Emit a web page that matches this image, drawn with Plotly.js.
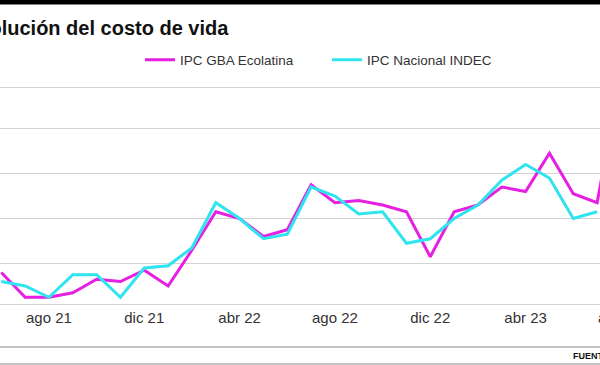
<!DOCTYPE html>
<html>
<head>
<meta charset="utf-8">
<script src="https://cdn.plot.ly/plotly-3.0.1.min.js"></script>
<style>
html, body { margin: 0; padding: 0; width: 600px; height: 365px; overflow: hidden; background: #fff; }
#chart { position: absolute; left: -40px; top: 0; width: 680px; height: 365px; }
</style>
</head>
<body>
<div id="chart"></div>
<script>
// Months (monthly inflation, %)
const months = ["jun 21","jul 21","ago 21","sep 21","oct 21","nov 21","dic 21",
  "ene 22","feb 22","mar 22","abr 22","may 22","jun 22","jul 22","ago 22","sep 22","oct 22","nov 22","dic 22",
  "ene 23","feb 23","mar 23","abr 23","may 23","jun 23","jul 23","ago 23"];
const ecolatina = [3.6, 2.5, 2.5, 2.7, 3.3, 3.2, 3.7, 3.0, 4.6, 6.3, 6.0, 5.2, 5.5, 7.5, 6.7, 6.8, 6.6, 6.3, 4.3,
  6.3, 6.6, 7.4, 7.2, 8.9, 7.1, 6.7, 12.4];
const indec = [3.2, 3.0, 2.5, 3.5, 3.5, 2.5, 3.8, 3.9, 4.7, 6.7, 6.0, 5.1, 5.3, 7.4, 7.0, 6.2, 6.3, 4.9, 5.1,
  6.0, 6.6, 7.7, 8.4, 7.8, 6.0, 6.3];
const tickMonths = ["ago 21","dic 21","abr 22","ago 22","dic 22","abr 23","ago 23"];
const seriesNames = ["IPC GBA Ecolatina", "IPC Nacional INDEC"];
const titleText = "Evolución del costo de vida";
const sourceText = "FUENTE:";

// geometry helpers (figure is 680 wide, shifted 40px left of the window)
const W = 680, H = 365, ML = 30, MR = 10, MT = 88, MB = 61;
const PW = W - ML - MR, PH = H - MT - MB;
const px = sx => (sx + 40 - ML) / PW;
const py = sy => (H - MB - sy) / PH;

const FONT = "Liberation Sans, Arial, sans-serif";

const traces = [
  { x: months.slice(0, ecolatina.length), y: ecolatina, name: seriesNames[0], type: "scatter", mode: "lines",
    line: { color: "#e61fe3", width: 3 } },
  { x: months.slice(0, indec.length), y: indec, name: seriesNames[1], type: "scatter", mode: "lines",
    line: { color: "#2fe4ee", width: 3 } }
];

const layout = {
  width: W, height: H,
  margin: { l: ML, r: MR, t: MT, b: MB },
  paper_bgcolor: "#fff", plot_bgcolor: "#fff",
  font: { family: FONT, color: "#333" },
  showlegend: true,
  legend: { orientation: "h", x: px(140), xanchor: "left", y: py(60), yanchor: "middle",
    font: { size: 13.5, color: "#333", family: FONT }, entrywidth: 142, entrywidthmode: "pixels",
    bgcolor: "rgba(0,0,0,0)" },
  xaxis: { type: "category", range: [-0.474, 26.38], tickmode: "array", tickvals: tickMonths, ticktext: tickMonths,
    showgrid: false, zeroline: false, showline: true, mirror: true, linecolor: "#d2d2d2", linewidth: 1.3,
    ticks: "", tickfont: { size: 15, color: "#333", family: FONT }, fixedrange: true },
  yaxis: { range: [2.2, 11.8], tickmode: "array", tickvals: [4, 6, 8, 10], showticklabels: false,
    showgrid: true, gridcolor: "#d2d2d2", gridwidth: 1.3, zeroline: false, ticks: "", fixedrange: true },
  shapes: [
    { type: "rect", xref: "paper", yref: "paper", x0: px(-5), x1: px(605), y0: py(4.5), y1: py(-2),
      fillcolor: "#000", line: { width: 0 } },
    { type: "line", xref: "paper", yref: "paper", x0: px(-5), x1: px(605), y0: py(347), y1: py(347),
      line: { color: "#b0b0b0", width: 1.5 } },
    { type: "line", xref: "paper", yref: "paper", x0: px(-5), x1: px(605), y0: py(364), y1: py(364),
      line: { color: "#b0b0b0", width: 1.5 } }
  ],
  annotations: [
    { text: "<b>" + titleText + "</b>", xref: "paper", yref: "paper", x: px(-36.7), y: py(28),
      xanchor: "left", yanchor: "middle", showarrow: false, font: { size: 20, color: "#111", family: FONT } },
    { text: "<b>" + sourceText + "</b>", xref: "paper", yref: "paper", x: px(571), y: py(356),
      xanchor: "left", yanchor: "middle", showarrow: false, font: { size: 9, color: "#111", family: FONT } }
  ]
};

Plotly.newPlot("chart", traces, layout, { displayModeBar: false, staticPlot: true });
</script>
</body>
</html>
